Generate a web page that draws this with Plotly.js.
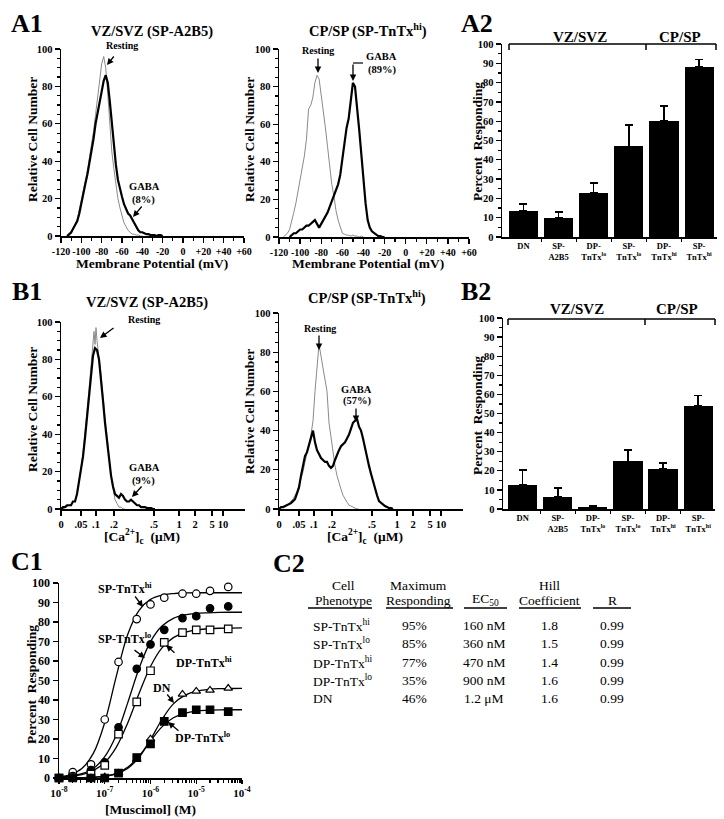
<!DOCTYPE html>
<html><head><meta charset="utf-8">
<script src="https://cdn.plot.ly/plotly-3.0.1.min.js"></script>
<style>html,body{margin:0;padding:0;background:#fff}#chart{width:724px;height:819px}</style>
</head><body><div id="chart"></div>
<script>
// ---------- A1 left: membrane potential (VZ/SVZ, SP-A2B5) ----------
const a1L_restX = [-112,-110,-108,-106,-104,-102,-100,-98,-96,-94,-92,-90,-88,-86,-84,-82,-80,-78,-76,-74,-72,-70,-68,-66,-64,-62,-60,-58,-56,-54,-52,-50,-48,-46,-44,-42,-40];
const a1L_rest  = [0,1,4,6,9,14,20,25,29,35,42,48,56,65,74,84,92,96,90,76,60,45,36,28,20,15,11,7,5,3,2,1,1,0.5,0.5,0,0];
const a1L_gabaX = [-114,-112,-110,-108,-106,-104,-102,-100,-98,-96,-94,-92,-90,-88,-86,-84,-82,-80,-78,-76,-74,-72,-70,-68,-66,-64,-62,-60,-58,-56,-54,-52,-50,-48,-46,-44,-42,-40,-38,-36,-34,-32,-30,-28,-26,-24,-22,-20];
const a1L_gaba  = [0,1,2,4,6,8,12,18,24,28,33,39,45,52,60,66,72,78,83,86,82,72,60,48,38,30,25,21,17,14,12,11,9,7,5,3,2,2,1.5,1,1,0.5,0.5,0.5,0,0.5,0.5,0];

// ---------- A1 right: membrane potential (CP/SP, SP-TnTx hi) ----------
const a1R_restX = [-116,-114,-112,-110,-108,-106,-104,-102,-100,-98,-96,-94,-92,-90,-88,-86,-84,-82,-80,-78,-76,-74,-72,-70,-68,-66,-64,-62,-60,-58,-56,-54,-52,-50,-48,-46,-44,-42,-40];
const a1R_rest  = [0,1,2,4,8,13,18,24,30,36,43,52,68,70,74,82,86,84,76,66,58,48,36,28,22,14,9,5,2,1.5,1,1,0.5,1,0.5,0.5,0,0.5,0];
const a1R_gabaX = [-110,-108,-106,-104,-102,-100,-98,-96,-94,-92,-90,-88,-86,-84,-82,-80,-78,-76,-74,-72,-70,-68,-66,-64,-62,-60,-58,-56,-54,-52,-50,-48,-46,-44,-42,-40,-38,-36,-34,-32,-30,-28,-26,-24,-22,-20];
const a1R_gaba  = [0,1,2,2,3,4,4,5,6,6,7,8,9,7,5,7,9,11,13,16,19,21,24,28,33,42,52,58,63,72,82,80,70,57,44,30,18,9,5,3,2,1,0.5,0.5,0,0];
const mvTicks   = [-120,-100,-80,-60,-40,-20,0,20,40,60];
const mvLabels  = ['-120','-100','-80','-60','-40','-20','0','+20','+40','+60'];

// ---------- A2 / B2: percent responding ----------
const cellCats = ['DN','SP-<br>A2B5','DP-<br>TnTx<sup>lo</sup>','SP-<br>TnTx<sup>lo</sup>','DP-<br>TnTx<sup>hi</sup>','SP-<br>TnTx<sup>hi</sup>'];
const a2Resp   = [13.5, 10, 23, 47, 60, 88];
const a2Err    = [3.5, 3, 5, 11, 8, 4];
const b2Resp   = [12.5, 6.5, 1, 25, 21, 54];
const b2Err    = [8, 4.5, 0.5, 6, 3, 5.5];
const noErr    = [0,0,0,0,0,0];

// ---------- B1: [Ca2+]c histograms (nonlinear concentration axis, plotted in axis units) ----------
const caTickPos  = [0,20,35,53,93,118,134,151,162];
const caTickText = ['0','.05','.1','.2','.5','1','2','5','10'];
const b1L_restX = [0,2,4,6,8,10,12,14,16,18,20,22,24,26,28,30,32,33,34,35,36,38,40,42,44,46,48,50,52,54,56,58,60,62,64];
const b1L_rest  = [0,0,1,1,2,2,4,4,8,14,22,30,40,52,64,76,90,95,88,97,90,82,72,60,48,38,28,18,10,5,3,1,1,0,0];
const b1L_gabaX = [0,2,4,6,8,10,12,14,16,18,20,22,24,26,28,30,32,34,36,38,40,42,44,46,48,50,52,54,56,58,60,62,64,66,68,70,72,74,76,78,80,82,84,86,88,90,92,94];
const b1L_gaba  = [0,1,1,2,2,2,4,4,8,14,20,28,38,50,62,74,82,86,85,80,70,58,46,36,26,18,12,8,7,6,8,7,5,4,4,5,4,3,2,2,1,1,1,0.5,0.5,0.5,0,0];
const b1R_restX = [0,2,4,6,8,10,12,14,16,18,20,22,24,26,28,30,32,34,36,38,40,42,44,46,48,50,52,54,56,58,60,62,64,66,68,70,72,74,76,78,80];
const b1R_rest  = [0,0.5,1,1,2,3,4,5,7,9,12,15,19,24,28,33,38,45,60,74,84,78,72,66,60,44,36,28,22,17,13,10,7,5,3.5,2,1.5,1,0.5,0,0];
const b1R_gabaX = [0,2,4,6,8,10,12,14,16,18,20,22,24,26,28,30,32,34,36,38,40,42,44,46,48,50,52,54,56,58,60,62,64,66,68,70,72,74,76,78,80,82,84,86,88,90,92,94,96,98,100,102,104,106,108,110,112,114];
const b1R_gaba  = [0,1,1,1.5,2,2.5,3,4,5,8,11,17,23,27,29,33,37,40,34,30,28,26,25,24,24,22,21,22,25,28,30,32,33,34,36,38,41,44,45,46,42,40,36,31,26,22,18,14,10,7,4,3,2,1.5,1,0.5,0.5,0];

// ---------- C1: muscimol dose-response ----------
const muscimol = [1e-8,2e-8,5e-8,1e-7,2e-7,5e-7,1e-6,2e-6,5e-6,1e-5,2e-5,5e-5,1e-4];
const spHi = [0,3,7,30,59.5,81.5,89,92.5,94.5,94.5,96,98,97];
const spLo = [0,1,4,8,26,56,68.5,76,82,83,87,88,87];
const dpHi = [0,0.5,2,6.5,22.5,39,55,69.5,74.5,76,76,76.5,77.5];
const dnR  = [0,0,0,0.5,2.5,9.5,20,29.5,43,44.5,45,46,45];
const dpLo = [0,0,0,0,2.5,10.5,17.5,29,33.5,35,35,34,35.5];
const fitConc = [1e-8,1.78e-8,3.16e-8,5.62e-8,1e-7,1.78e-7,3.16e-7,5.62e-7,1e-6,1.78e-6,3.16e-6,5.62e-6,1e-5,1.78e-5,3.16e-5,5.62e-5,1e-4];
const fitSpHi = [0.6,1.8,4.9,12.6,28.5,52,73.5,86,91.6,93.8,94.6,94.9,95,95,95,95,95];
const fitSpLo = [0.4,0.9,2.2,4.9,10.9,21.9,38.4,56.2,69.9,77.9,81.9,83.6,84.4,84.7,84.9,85,85];
const fitDpHi = [0.35,0.8,1.7,3.8,7.9,15.7,28.1,43.3,57.2,66.7,72,74.7,76,76.5,76.8,76.9,77];
const fitDN   = [0,0.05,0.14,0.34,0.85,2.1,4.9,10.6,19.7,30,38,42.4,44.5,45.4,45.8,45.9,46];
const fitDpLo = [0,0.07,0.17,0.41,1,2.4,5.5,11.2,19,26.2,30.9,33.2,34.3,34.7,34.9,35,35];
const decadeTicks = [1e-8,1e-7,1e-6,1e-5,1e-4];
const decadeText  = ['10<sup>-8</sup>','10<sup>-7</sup>','10<sup>-6</sup>','10<sup>-5</sup>','10<sup>-4</sup>'];

// ---------- C2: table ----------
const tPheno = ['SP-TnTx<sup>hi</sup>','SP-TnTx<sup>lo</sup>','DP-TnTx<sup>hi</sup>','DP-TnTx<sup>lo</sup>','DN'];
const tMax   = ['95%','85%','77%','35%','46%'];
const tEC50  = ['160 nM','360 nM','470 nM','900 nM','1.2 μM'];
const tHill  = ['1.8','1.5','1.4','1.6','1.6'];
const tR     = ['0.99','0.99','0.99','0.99','0.99'];

// ================= layout helpers =================
const F = 'Liberation Serif, Times New Roman, serif';
const W = 724, H = 819;
const px = x => x / W, py = y => 1 - y / H;
const xd = (a, b) => [px(a), px(b)];
const yd = (top, bot) => [py(bot), py(top)];
function axis(o) {
  return Object.assign({
    showline: true, linecolor: '#000', linewidth: 1.5,
    ticks: 'outside', ticklen: 5, tickwidth: 1.3, tickcolor: '#000', tickangle: 0,
    showgrid: false, zeroline: false, fixedrange: true,
    tickfont: {family: F, size: 10.5, color: '#000', weight: 'bold'}
  }, o);
}
const GRAY = '#8a8a8a';
const traces = [];
function hist(x, y, xa, ya, gray) {
  traces.push({x, y, xaxis: xa, yaxis: ya, type: 'scatter', mode: 'lines', hoverinfo: 'skip',
    line: {color: gray ? GRAY : '#000', width: gray ? 1 : 2.2}});
}
hist(a1L_restX, a1L_rest, 'x', 'y', true);
hist(a1L_gabaX, a1L_gaba, 'x', 'y', false);
hist(a1R_restX, a1R_rest, 'x2', 'y2', true);
hist(a1R_gabaX, a1R_gaba, 'x2', 'y2', false);
hist(b1L_restX, b1L_rest, 'x4', 'y4', true);
hist(b1L_gabaX, b1L_gaba, 'x4', 'y4', false);
hist(b1R_restX, b1R_rest, 'x5', 'y5', true);
hist(b1R_gabaX, b1R_gaba, 'x5', 'y5', false);

const catIdx = cellCats.map((_, i) => i);
function bars(vals, errs, xa, ya) {
  traces.push({type: 'bar', x: catIdx, y: vals, xaxis: xa, yaxis: ya, width: 0.83,
    marker: {color: '#000', line: {width: 0}},
    error_y: {type: 'data', symmetric: false, array: errs, arrayminus: noErr, color: '#000', thickness: 1.5, width: 4}});
}
bars(a2Resp, a2Err, 'x3', 'y3');
bars(b2Resp, b2Err, 'x6', 'y6');

function fit(y) {
  traces.push({x: fitConc, y, xaxis: 'x7', yaxis: 'y7', type: 'scatter', mode: 'lines',
    line: {color: '#000', width: 1.3, shape: 'spline', smoothing: 1}});
}
[fitSpHi, fitSpLo, fitDpHi, fitDN, fitDpLo].forEach(fit);
function pts(y, symbol, fill) {
  traces.push({x: muscimol, y, xaxis: 'x7', yaxis: 'y7', type: 'scatter', mode: 'markers', cliponaxis: false,
    marker: {symbol, size: 7.5, color: fill, line: {color: '#000', width: 1.2}}});
}
pts(spHi, 'circle', '#fff');
pts(spLo, 'circle', '#000');
pts(dpHi, 'square', '#fff');
pts(dnR, 'triangle-up', '#fff');
pts(dpLo, 'square', '#000');

const mvAxis = d => axis({domain: d, range: [-120, 60], tickmode: 'array', tickvals: mvTicks, ticktext: mvLabels,
  tickfont: {family: F, size: 10, color: '#000', weight: 'bold'},
  minor: {dtick: 10, ticks: 'outside', ticklen: 3, tickcolor: '#000'}});
const cellYAxis = (d, xa) => axis({domain: d, anchor: xa, range: [0, 100], dtick: 20,
  minor: {dtick: 5, ticks: 'outside', ticklen: 3, tickcolor: '#000'}});
const pctAxis = (d, xa) => axis({domain: d, anchor: xa, range: [0, 100], dtick: 10,
  minor: {dtick: 5, ticks: 'outside', ticklen: 3, tickcolor: '#000'}});
const catAxis = (d, ya, r) => axis({domain: d, anchor: ya, range: r, tickmode: 'array', tickvals: catIdx, ticktext: cellCats,
  ticks: '', tickfont: {family: F, size: 8.5, color: '#000', weight: 'bold'},
  minor: {tickvals: [0.5, 1.5, 2.5, 3.5, 4.5], ticks: 'outside', ticklen: 3, tickcolor: '#000'}});
const caAxis = (d, ya) => axis({domain: d, anchor: ya, range: [0, 184], tickmode: 'array', tickvals: caTickPos, ticktext: caTickText});

const layout = {
  width: W, height: H, margin: {l: 0, r: 0, t: 0, b: 0}, showlegend: false,
  paper_bgcolor: '#fff', plot_bgcolor: 'rgba(0,0,0,0)', bargap: 0,
  xaxis:  Object.assign(mvAxis(xd(61, 244)), {anchor: 'y'}),
  yaxis:  cellYAxis(yd(49, 236), 'x'),
  xaxis2: Object.assign(mvAxis(xd(279, 469)), {anchor: 'y2'}),
  yaxis2: cellYAxis(yd(49, 237), 'x2'),
  xaxis3: catAxis(xd(502, 717), 'y3', [-0.61, 5.51]),
  yaxis3: pctAxis(yd(44, 237), 'x3'),
  xaxis4: caAxis(xd(61, 245), 'y4'),
  yaxis4: cellYAxis(yd(322, 509), 'x4'),
  xaxis5: caAxis(xd(279, 463), 'y5'),
  yaxis5: cellYAxis(yd(313, 509), 'x5'),
  xaxis6: catAxis(xd(503, 715), 'y6', [-0.56, 5.48]),
  yaxis6: pctAxis(yd(318, 509), 'x6'),
  xaxis7: axis({domain: xd(59, 242), anchor: 'y7', type: 'log', range: [-8, -4], tickmode: 'array',
    tickvals: decadeTicks, ticktext: decadeText, ticklen: 4, tickfont: {family: F, size: 11, color: '#000', weight: 'bold'},
    minor: {dtick: 'D1', ticks: 'outside', ticklen: 3, tickcolor: '#000'}}),
  yaxis7: axis({domain: yd(583, 778), anchor: 'x7', range: [0, 100], dtick: 10,
    tickfont: {family: F, size: 12, color: '#000', weight: 'bold'}}),
  annotations: [], shapes: []
};

const ann = layout.annotations, shp = layout.shapes;
function T(x, y, text, size, o) {
  ann.push(Object.assign({xref: 'paper', yref: 'paper', x: px(x), y: py(y), text, showarrow: false,
    font: {family: F, size, color: '#000'}, xanchor: 'center', yanchor: 'middle'}, o || {}));
}
function A(x, y, ax, ay) {
  ann.push({xref: 'paper', yref: 'paper', x: px(x), y: py(y), ax, ay, text: '', showarrow: true,
    arrowhead: 2, arrowsize: 1, arrowwidth: 1.3, arrowcolor: '#000'});
}
function L(x0, y0, x1, y1, w) {
  shp.push({type: 'line', xref: 'paper', yref: 'paper', x0: px(x0), y0: py(y0), x1: px(x1), y1: py(y1),
    line: {color: '#000', width: w || 1.5}});
}
const B = s => '<b>' + s + '</b>';

// panel letters
T(27, 23, B('A1'), 26); T(477, 23, B('A2'), 26);
T(27, 291, B('B1'), 26); T(476, 291, B('B2'), 26);
T(27, 561, B('C1'), 26); T(289, 563, B('C2'), 26);

// titles
T(152, 32, B('VZ/SVZ (SP-A2B5)'), 14.5);
T(368, 31, B('CP/SP (SP-TnTx<sup>hi</sup>)'), 14.5);
T(147, 302, B('VZ/SVZ (SP-A2B5)'), 14.5);
T(367, 297, B('CP/SP (SP-TnTx<sup>hi</sup>)'), 14.5);

// axis titles
const yt = {textangle: -90};
T(32, 140, B('Relative Cell Number'), 13.5, yt);
T(249, 140, B('Relative Cell Number'), 13.5, yt);
T(32, 410, B('Relative Cell Number'), 13.5, yt);
T(249, 412, B('Relative Cell Number'), 13.5, yt);
T(477, 141, B('Percent&nbsp; Responding'), 13.5, yt);
T(477, 415, B('Percent&nbsp; Responding'), 13.5, yt);
T(31, 685, B('Percent&nbsp; Responding'), 13.5, yt);
T(152, 264, B('Membrane Potential (mV)'), 13.5);
T(368, 264, B('Membrane Potential (mV)'), 13.5);
T(142, 536, B('[Ca<sup>2+</sup>]<sub>c</sub>&nbsp; (μM)'), 13.5);
T(365, 536, B('[Ca<sup>2+</sup>]<sub>c</sub>&nbsp; (μM)'), 13.5);
T(150, 809, B('[Muscimol] (M)'), 13.5);

// A1 annotations
T(122, 45, B('Resting'), 10); A(107, 65, 8, -10);
T(144, 187, B('GABA'), 10.5); T(143, 200, B('(8%)'), 10.5); A(133, 217, 10, -12);
T(318, 50, B('Resting'), 10); A(318, 73, 0, -16);
T(381, 57, B('GABA'), 10.5); T(382, 70, B('(89%)'), 10.5); A(353, 81, 0, -18); L(353, 63, 363, 63, 1.2);
// B1 annotations
T(144, 320, B('Resting'), 10); A(100, 338, 15, -11);
T(144, 467, B('GABA'), 10.5); T(143, 481, B('(9%)'), 10.5); A(132, 497, 11, -12);
T(320, 328, B('Resting'), 10); A(319, 350, 0, -16);
T(356, 389, B('GABA'), 10.5); T(357, 401, B('(57%)'), 10.5); A(356, 422, 0, -15);

// A2 / B2 brackets
T(580, 37, B('VZ/SVZ'), 15); T(680, 37, B('CP/SP'), 15);
L(509, 44, 716, 44); L(509, 44, 509, 50); L(646, 44, 646, 50); L(716, 44, 716, 50);
T(577, 309, B('VZ/SVZ'), 15); T(677, 309, B('CP/SP'), 15);
L(508, 319, 715, 319); L(508, 319, 508, 325); L(645, 319, 645, 325); L(715, 319, 715, 325);

// C1 curve labels
T(125, 588, B('SP-TnTx<sup>hi</sup>'), 12); A(143, 607, -9, -12);
T(124, 638, B('SP-TnTx<sup>lo</sup>'), 12); A(145, 658, -12, -9);
T(204, 662, B('DP-TnTx<sup>hi</sup>'), 12); A(166, 645, 10, 9);
T(162, 688, B('DN'), 12); A(174, 703, -8, -10);
T(203, 737, B('DP-TnTx<sup>lo</sup>'), 12); A(168, 722, 12, 10);

// C2 table
const TS = 13.5;
T(343, 585, 'Cell', TS); T(343, 600, 'Phenotype', TS);
T(418, 585, 'Maximum', TS); T(418, 600, 'Responding', TS);
T(485, 599, 'EC<sub>50</sub>', TS);
T(549, 585, 'Hill', TS); T(549, 600, 'Coefficient', TS);
T(612, 600, 'R', TS);
L(308, 608, 372, 608); L(386, 608, 453, 608); L(464, 608, 507, 608); L(519, 608, 581, 608); L(593, 608, 631, 608);
const rowY = [625, 643, 662, 680, 698];
tPheno.forEach((s, i) => T(311, rowY[i], s, TS, {xanchor: 'left'}));
tMax.forEach((s, i) => T(414, rowY[i], s, TS));
tEC50.forEach((s, i) => T(484, rowY[i], s, TS));
tHill.forEach((s, i) => T(549, rowY[i], s, TS));
tR.forEach((s, i) => T(612, rowY[i], s, TS));

Plotly.newPlot('chart', traces, layout, {displayModeBar: false, staticPlot: true});
</script></body></html>
